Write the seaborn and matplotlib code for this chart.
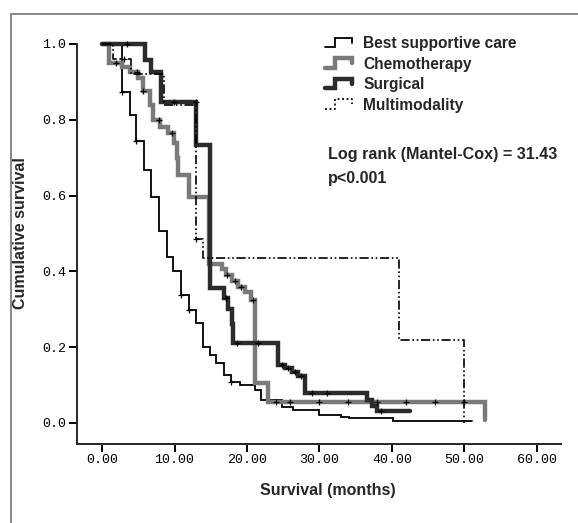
import numpy as np
import pandas as pd
import matplotlib
matplotlib.use("Agg")
import matplotlib.pyplot as plt
import seaborn as sns
from matplotlib.lines import Line2D
from matplotlib.legend_handler import HandlerBase
from matplotlib.patches import Rectangle

# ---------------- data ----------------
groups = ["Best supportive care", "Chemotherapy", "Surgical", "Multimodality"]

bsc_time = [0, 2.8, 3.8, 4.75, 5.76, 6.8, 7.9, 9.0, 9.8, 10.9, 12.0, 12.9, 13.9, 14.9, 15.7, 16.8,
            17.8, 19.0, 21.1, 22.0, 24.8, 26.4, 29.9, 33.0, 34.1, 40.1, 51.0]
bsc_surv = [1.0, 0.874, 0.813, 0.744, 0.668, 0.597, 0.506, 0.437, 0.40, 0.337, 0.297, 0.263, 0.20,
            0.18, 0.158, 0.127, 0.109, 0.099, 0.086, 0.061, 0.043, 0.034, 0.021, 0.017, 0.012, 0.004, 0.004]
bsc_cens = [2.8, 4.75, 10.9, 12.0, 17.8]

chemo_time = [0, 1.0, 2.8, 3.8, 4.9, 5.7, 6.6, 7.0, 8.0, 9.1, 9.9, 10.3, 10.5, 12.0, 14.7, 16.5, 17.1,
              17.9, 18.8, 19.7, 20.5, 21.1, 22.9, 52.8, 52.9]
chemo_surv = [1.0, 0.95, 0.94, 0.925, 0.91, 0.875, 0.84, 0.80, 0.78, 0.765, 0.74, 0.70, 0.655, 0.595,
              0.42, 0.405, 0.39, 0.375, 0.36, 0.345, 0.325, 0.105, 0.056, 0.008, 0.008]
chemo_cens = [1.9, 4.8, 5.7, 7.9, 9.6, 17.2, 18.3, 19.2, 20.8,
              24.0, 26.0, 30.0, 34.0, 38.0, 42.0, 46.0, 50.0]

surg_time = [0, 5.9, 6.8, 8.2, 13.0, 14.9, 16.8, 17.4, 17.9, 18.1, 24.3, 25.2, 26.2, 27.1, 28.0,
             36.5, 37.2, 37.9, 42.5]
surg_surv = [1.0, 0.958, 0.927, 0.848, 0.733, 0.356, 0.33, 0.30, 0.26, 0.21, 0.153, 0.145, 0.135,
             0.125, 0.078, 0.06, 0.045, 0.032, 0.032]
surg_cens = [3.5, 9.9, 12.9, 17.1, 18.6, 21.5, 24.8, 25.7, 26.6, 27.5, 29.0, 31.0, 38.5]

multi_time = [0, 1.5, 4.0, 8.5, 12.9, 14.0, 41.0, 50.0]
multi_surv = [1.0, 0.96, 0.92, 0.84, 0.485, 0.435, 0.22, 0.0]
multi_cens = [3.0, 12.9]

x_ticks = [0, 10, 20, 30, 40, 50, 60]
y_ticks = [0.0, 0.2, 0.4, 0.6, 0.8, 1.0]

# ---------------- style ----------------
sns.set_style("ticks")
plt.rcParams["font.family"] = ["Liberation Sans", "DejaVu Sans"]

W, H = 578, 523
fig = plt.figure(figsize=(W / 100, H / 100), dpi=100)
ax = fig.add_axes([76.7 / W, 1 - 443.8 / H, (560.7 - 76.7) / W, (443.8 - 36.4) / H])

series = [
    (groups[0], bsc_time, bsc_surv, bsc_cens, "#000000", 1.3, None),
    (groups[1], chemo_time, chemo_surv, chemo_cens, "#7a7a7a", 3.2, None),
    (groups[2], surg_time, surg_surv, surg_cens, "#2b2b2b", 3.2, None),
    (groups[3], multi_time, multi_surv, multi_cens, "#000000", 1.2, (5.5, 1.6, 1.0, 1.6, 1.0, 1.6)),
]

handles = []
for name, t, s, c, col, lw, dash in series:
    df = pd.DataFrame({"time": t, "surv": s})
    kw = dict(drawstyle="steps-post", color=col, linewidth=lw, ax=ax, clip_on=False,
              solid_joinstyle="miter", legend=False)
    if dash is not None:
        kw["dashes"] = dash
    sns.lineplot(data=df, x="time", y="surv", estimator=None, sort=False, **kw)
    # censor marks
    ta = np.array(t)
    sa = np.array(s)
    cy = [sa[np.searchsorted(ta, ci, side="right") - 1] for ci in c]
    cdf = pd.DataFrame({"time": c, "surv": cy})
    sns.scatterplot(data=cdf, x="time", y="surv", marker="+", color="black", s=20,
                    linewidth=0.9, ax=ax, zorder=5, clip_on=False, legend=False)
    h = Line2D([], [], color=col, linewidth=lw)
    if dash is not None:
        h.set_dashes((1.2, 1.5, 1.2, 1.5))
    handles.append(h)

ax.set_xlim(-3.5, 63.3)
ax.set_ylim(-0.055, 1.02)
ax.spines["left"].set_bounds(-0.055, 1.0)
sns.despine(ax=ax, top=True, right=True)
for sp in ("left", "bottom"):
    ax.spines[sp].set_linewidth(1.4)
ax.set_xticks(x_ticks)
ax.set_xticklabels([f"{v:.2f}" for v in x_ticks], family="Liberation Mono", fontsize=9.6)
ax.set_yticks(y_ticks)
ax.set_yticklabels([f"{v:.1f}" for v in y_ticks], family="Liberation Mono", fontsize=9.6)
ax.tick_params(direction="out", length=5.5, width=1.4, pad=2, color="black", labelcolor="black")

ax.set_xlabel("Survival (months)", fontsize=11.5, fontweight="bold")
ax.set_ylabel("Cumulative survival", fontsize=11.5, fontweight="bold")
ax.xaxis.set_label_coords((328 - 76.7) / (560.7 - 76.7), -(490 - 443.8) / (443.8 - 36.4))
ax.yaxis.set_label_coords((20.7 - 76.7) / (560.7 - 76.7), (443.8 - 233) / (443.8 - 36.4))
ax.xaxis.label.set_va("center")
ax.yaxis.label.set_va("center")


class StepHandler(HandlerBase):
    def create_artists(self, legend, orig_handle, xdescent, ydescent, width, height, fontsize, trans):
        x0, y0 = -xdescent, -ydescent
        xs = [x0, x0 + 0.35 * width, x0 + 0.35 * width, x0 + width, x0 + width]
        ys = [y0 + 0.1 * height, y0 + 0.1 * height, y0 + 0.95 * height, y0 + 0.95 * height,
              y0 + 0.5 * height]
        ln = Line2D(xs, ys, color=orig_handle.get_color(), linewidth=orig_handle.get_linewidth(),
                    linestyle=orig_handle.get_linestyle(), solid_joinstyle="miter")
        if orig_handle.get_linestyle() not in ("-", "solid"):
            ln.set_dashes((1.2, 1.5, 1.2, 1.5))
        ln.set_transform(trans)
        return [ln]


leg = fig.legend(handles, groups, loc="upper left",
                 bbox_to_anchor=(325 / W, 1 - 36 / H), frameon=False,
                 handler_map={Line2D: StepHandler()},
                 prop={"weight": "bold", "size": 11.2}, handlelength=1.75, handletextpad=0.7,
                 labelspacing=0.36, borderpad=0, borderaxespad=0)

fig.text(328 / W, 1 - 155 / H, "Log rank (Mantel-Cox) = 31.43", fontsize=11.6,
         fontweight="bold", va="center", ha="left")
fig.text(328 / W, 1 - 178 / H, "p<0.001", fontsize=11.6, fontweight="bold",
         va="center", ha="left")

fig.patches.append(Rectangle((11 / W, -0.05), 1.2, (H - 13.5) / H + 0.05,
                             transform=fig.transFigure, fill=False, ec="#7f7f7f", lw=1.3))

fig.savefig("out.png", dpi=100)
